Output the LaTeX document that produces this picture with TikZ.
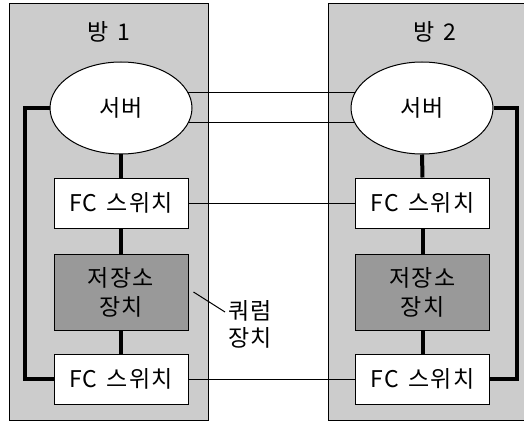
\documentclass[tikz,border=0pt]{standalone}
\usepackage{fontspec}
\setmainfont{Noto Sans CJK KR}[LetterSpace=6, WordSpace=1.4]
\usetikzlibrary{shapes.geometric}
\pgfdeclarelayer{bg}
\pgfdeclarelayer{mid}
\pgfsetlayers{bg,mid,main}
\definecolor{roomgray}{RGB}{204,204,204}
\definecolor{storegray}{RGB}{153,153,153}
\tikzset{
  room/.style={draw=black, line width=1pt, fill=roomgray, minimum width=199pt, minimum height=416pt, inner sep=0pt},
  server/.style={ellipse, draw=black, line width=1pt, fill=white, minimum width=142pt, minimum height=92pt, inner sep=0pt, font=\fontsize{23}{26}\selectfont},
  switchbox/.style={draw=black, line width=1pt, fill=white, minimum width=134pt, minimum height=50pt, inner sep=0pt, font=\fontsize{23}{26}\selectfont},
  storebox/.style={draw=black, line width=1pt, fill=storegray, minimum width=134pt, minimum height=76pt, inner sep=0pt, align=center, font=\fontsize{23}{29}\selectfont},
  title/.style={font=\fontsize{23}{26}\selectfont, inner sep=0pt},
  thick link/.style={line width=4pt},
  thin link/.style={line width=1pt},
}
\begin{document}
\begin{tikzpicture}[x=1pt,y=-1pt]
\useasboundingbox (0,0) rectangle (524,422);
\begin{pgfonlayer}{bg}
\node[room] (room1) at (108.5,212) {};
\node[room] (room2) at (428,212) {};
\end{pgfonlayer}
\node[title] (t1) at (109,32) {방 1};
\node[title] (t2) at (435,32) {방 2};
\node[server] (s1) at (121,108) {서버};
\node[server] (s2) at (422,108) {서버};
\node[switchbox] (f1) at (121,203) {FC 스위치};
\node[switchbox] (f2) at (422.5,203) {FC 스위치};
\node[storebox] (st1) at (121,292) {저장소\\장치};
\node[storebox] (st2) at (422.5,292) {저장소\\장치};
\node[switchbox] (g1) at (121,379) {FC 스위치};
\node[switchbox] (g2) at (422.5,379) {FC 스위치};
\node[font=\fontsize{23}{27}\selectfont, align=left, inner sep=0pt, anchor=west] (q) at (228,324) {쿼럼\\장치};
\coordinate (qend) at (225,312);
\begin{pgfonlayer}{mid}
\draw[thin link] ([yshift=-15pt]s1.center) -- ([yshift=-15pt]s2.center);
\draw[thin link] ([yshift=15pt]s1.center) -- ([yshift=15pt]s2.center);
\draw[thin link] (f1.center) -- (f2.center);
\draw[thin link] (g1.center) -- (g2.center);
\draw[thick link] (s1.south) -- (f1.north);
\draw[thick link] (f1.south) -- (st1.north);
\draw[thick link] (st1.south) -- (g1.north);
\draw[thick link] (s2.south) -- (f2.north);
\draw[thick link] (f2.south) -- (st2.north);
\draw[thick link] (st2.south) -- (g2.north);
\draw[thick link] (s1.west) -- (25,108) -- (25,379) -- (g1.west);
\draw[thick link] (s2.east) -- (517,108) -- (517,379) -- (g2.east);
\end{pgfonlayer}
\draw[thin link] ([xshift=5pt]st1.east) -- (qend);
\end{tikzpicture}
\end{document}
